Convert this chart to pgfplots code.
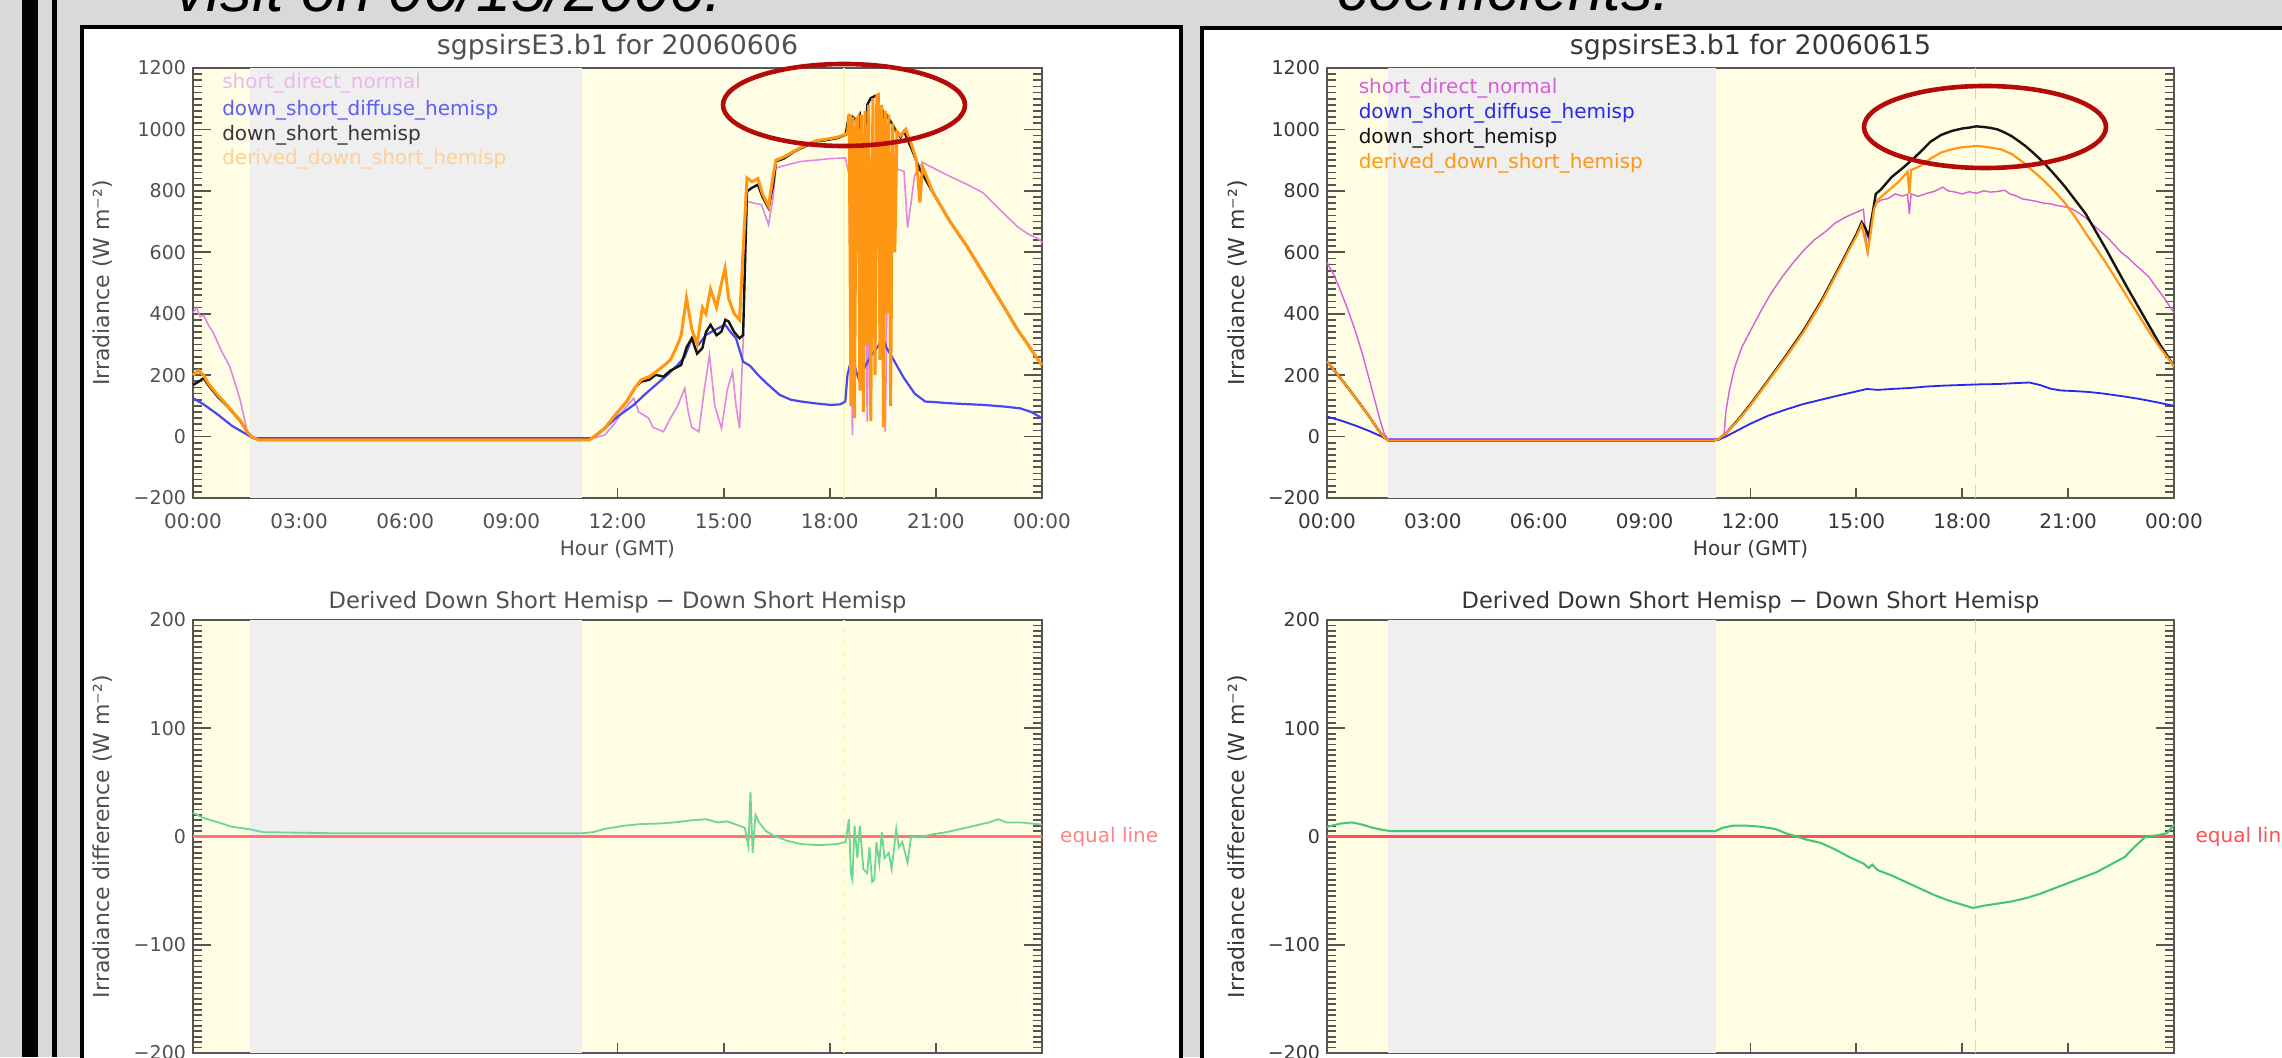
\documentclass[border=0pt]{standalone}
\usepackage{fontspec}
\setmainfont{DejaVu Sans}
\newfontfamily\slidefont{Liberation Sans}
\usepackage{pgfplots}
\pgfplotsset{compat=1.18}

\definecolor{slidegray}{RGB}{217,217,217}
\definecolor{dayyellow}{RGB}{255,253,228}
\definecolor{nightgray}{RGB}{239,239,239}
\definecolor{framegray}{RGB}{85,85,85}
\definecolor{sdnpink}{RGB}{214,96,214}
\definecolor{diffblue}{RGB}{40,40,240}
\definecolor{hemblack}{RGB}{20,20,20}
\definecolor{derorange}{RGB}{255,150,20}
\definecolor{diffgreen}{RGB}{60,200,110}
\definecolor{eqred}{RGB}{255,80,80}
\definecolor{noonyellow}{RGB}{250,232,0}
\definecolor{ellred}{RGB}{180,10,10}
\definecolor{lefttext}{RGB}{80,80,80}
\definecolor{righttext}{RGB}{55,55,55}

\tikzset{legtext/.style={anchor=west, inner sep=0pt, font=\fontsize{10}{12}\selectfont}}

\pgfplotsset{
  irsbase/.style={
    scale only axis, anchor=south west, clip=false,
    xmin=0, xmax=24,
    axis background/.style={fill=dayyellow},
    axis line style={draw=framegray, line width=1.3pt},
    xtick={0,3,...,24},
    xticklabels={00:00,03:00,06:00,09:00,12:00,15:00,18:00,21:00,00:00},
    xtick pos=left, ytick pos=both, tick align=inside,
    major tick length=9pt, minor tick length=4.5pt,
    tick style={line width=0.9pt, draw=framegray},
    xtick style={/pgfplots/major tick length=5pt},
    every axis title/.style={at={(axis description cs:0.5,1)}, anchor=base, yshift=6.6pt, font=\fontsize{13.4}{16}\selectfont},
    every axis x label/.style={at={(axis description cs:0.5,0)}, anchor=base, yshift=-28.6pt, font=\fontsize{10}{12}\selectfont},
    every axis y label/.style={at={(axis description cs:-0.106,0.5)}, rotate=90, anchor=center, font=\fontsize{11}{13}\selectfont},
    xticklabel style={anchor=base, yshift=-15.5pt, font=\fontsize{10}{12}\selectfont},
    yticklabel style={font=\fontsize{9.5}{11}\selectfont},
  },
  irstop/.style={ymin=-200, ymax=1200, ytick={-200,0,...,1200},
    yticklabels={−200,0,200,400,600,800,1000,1200}, minor y tick num=9},
  irsdiff/.style={ymin=-200, ymax=200, ytick={-200,-100,0,100,200},
    yticklabels={−200,−100,0,100,200}, minor y tick num=19, xticklabels={},
    title style={font=\fontsize{11.3}{13}\selectfont, yshift=-0.8pt}},
  leftpanel/.style={tick label style={text=lefttext}, title style={text=lefttext}, label style={text=lefttext}},
  rightpanel/.style={tick label style={text=righttext}, title style={text=righttext}, label style={text=righttext}},
}

\begin{document}
\begin{tikzpicture}
\useasboundingbox (0,0) rectangle (1141pt,528.5pt);
\fill[slidegray] (0,0) rectangle (1141pt,528.5pt);
\fill[black] (11pt,0) rectangle (19pt,528.5pt);
\fill[black] (26pt,0) rectangle (28.5pt,528.5pt);
\filldraw[fill=white, draw=black, line width=2.2pt] (41pt,-10pt) rectangle (590.5pt,515pt);
\filldraw[fill=white, draw=black, line width=2.2pt] (601pt,-10pt) rectangle (1160pt,514.5pt);
\node[anchor=base west, inner sep=0pt, font=\slidefont\itshape\fontsize{31.5}{36}\selectfont] at (87.5pt,522.5pt) {visit on 06/15/2006.};
\node[anchor=base west, inner sep=0pt, font=\slidefont\itshape\fontsize{31.5}{36}\selectfont] at (668.5pt,523pt) {coefficients.};

% ---------- left, top: 20060606
\begin{axis}[irsbase, irstop, leftpanel, at={(96.5pt,279.5pt)}, width=424.5pt, height=215pt,
  title={sgpsirsE3.b1 for 20060606}, xlabel={Hour (GMT)}, ylabel={Irradiance (W m⁻²)}]
\addplot[draw=none, fill=nightgray, forget plot] coordinates {(1.61,-200) (1.61,1200) (11.0,1200) (11.0,-200)} -- cycle;
\addplot[color=noonyellow!30, line width=1.2pt, forget plot] coordinates {(18.4,-200) (18.4,1200)};
% short_direct_normal
\addplot[color=sdnpink!75, line width=0.8pt] coordinates {
(0,403) (0.1,420) (0.2,390) (0.3,395) (0.45,360) (0.57,339) (0.8,280) (1.04,228) (1.2,170) (1.33,120) (1.45,60) (1.52,23) (1.6,0) (1.7,-5)
(4,-5) (8,-5) (11.3,-5) (11.64,5) (11.9,40) (12.2,90) (12.46,125) (12.6,80) (12.88,60) (13.0,30) (13.3,16) (13.5,60) (13.7,100) (13.9,157)
(14.0,80) (14.1,30) (14.3,16) (14.45,150) (14.6,266) (14.75,100) (14.94,27) (15.1,150) (15.25,212) (15.35,100) (15.45,27) (15.55,300)
(15.66,766) (15.85,760) (16.07,755) (16.27,690) (16.4,780) (16.48,874) (16.8,885) (17.2,896) (17.6,900) (18.0,905) (18.44,907) (18.55,850)
(18.64,5) (18.75,880) (18.85,896) (19.0,600) (19.06,49) (19.15,850) (19.26,885) (19.4,870) (19.5,300) (19.57,16) (19.65,700) (19.78,874)
(19.95,870) (20.1,863) (20.2,680) (20.29,755) (20.4,850) (20.5,874) (20.64,892) (21.0,870) (21.4,847) (21.9,820) (22.33,794) (22.8,740)
(23.3,684) (23.6,660) (23.94,641) (24,630)};
% down_short_diffuse_hemisp
\addplot[color=diffblue!85, line width=1.1pt] coordinates {
(0,125) (0.3,105) (0.72,70) (1.1,35) (1.55,5) (1.7,-5) (4,-5) (8,-5) (11.3,-5) (11.64,27) (12.0,65) (12.46,103) (12.8,140) (13.08,168)
(13.4,200) (13.7,233) (13.9,260) (14.1,320) (14.3,300) (14.5,331) (14.8,350) (15.04,364) (15.2,340) (15.35,320) (15.55,244) (15.75,230)
(15.97,201) (16.2,175) (16.58,136) (16.9,120) (17.2,114) (17.6,108) (18.03,103) (18.3,105) (18.44,114) (18.5,200) (18.64,266) (18.75,210)
(18.85,179) (19.0,230) (19.15,260) (19.26,277) (19.4,300) (19.47,331) (19.6,290) (19.78,255) (19.95,220) (20.1,190) (20.4,140) (20.7,114)
(21.0,112) (21.32,109) (21.8,106) (22.35,103) (22.9,98) (23.38,92) (23.7,80) (24,60)};
% down_short_hemisp
\addplot[color=hemblack, line width=1.2pt] coordinates {
(0,168) (0.15,178) (0.3,190) (0.45,165) (0.7,130) (1.0,95) (1.34,50) (1.55,12) (1.65,0) (1.85,-11) (4,-11) (8,-11) (11.2,-11) (11.4,5)
(11.64,27) (11.9,65) (12.26,114) (12.5,160) (12.67,179) (12.9,185) (13.08,201) (13.3,195) (13.5,215) (13.8,233) (13.95,290) (14.1,320)
(14.25,270) (14.4,288) (14.5,340) (14.63,364) (14.8,330) (14.94,342) (15.05,380) (15.14,375) (15.3,340) (15.45,320) (15.55,330) (15.66,798)
(15.8,810) (15.97,820) (16.1,780) (16.27,744) (16.4,820) (16.48,896) (16.7,905) (17.0,928) (17.3,945) (17.61,961) (17.9,965) (18.23,972)
(18.45,983) (18.55,1050) (18.6,400) (18.65,1040) (18.75,1030) (18.85,1048) (19.0,600) (19.06,1080) (19.16,1102) (19.3,1110) (19.37,1113)
(19.45,800) (19.5,1060) (19.6,1048) (19.75,1020) (19.88,994) (20.0,975) (20.1,994) (20.3,940) (20.55,869) (20.92,794) (21.4,700)
(21.88,619) (22.3,540) (22.8,446) (23.3,350) (23.6,300) (23.94,241) (24,233)};
% derived_down_short_hemisp
\addplot[color=derorange, line width=1.5pt] coordinates {
(0,200) (0.15,215) (0.3,200) (0.45,170) (0.7,135) (1.0,97) (1.34,52) (1.55,12) (1.65,0) (1.85,-11) (4,-11) (8,-11) (11.2,-11) (11.4,5)
(11.64,27) (11.9,65) (12.26,114) (12.5,160) (12.67,185) (12.9,195) (13.08,210) (13.3,230) (13.5,250) (13.7,300) (13.8,330) (13.95,451)
(14.1,350) (14.25,300) (14.4,420) (14.5,400) (14.63,480) (14.8,420) (14.94,500) (15.04,548) (15.14,450) (15.3,400) (15.45,380) (15.55,600)
(15.66,842) (15.8,830) (15.97,840) (16.1,790) (16.27,750) (16.4,850) (16.48,900) (16.7,910) (17.0,930) (17.3,948) (17.61,963) (17.9,968)
(18.23,975) (18.45,985) (18.5,985) (18.55,1050) (18.6,100) (18.65,1040) (18.7,60) (18.75,1030) (18.8,1040) (18.85,150) (18.9,1048)
(18.95,80) (19.0,1060) (19.06,300) (19.1,1080) (19.16,50) (19.22,1102) (19.28,200) (19.33,1110) (19.37,1113) (19.42,250) (19.47,1080)
(19.52,30) (19.57,1060) (19.62,400) (19.67,1048) (19.72,100) (19.78,1020) (19.84,600) (19.9,994) (20.0,980) (20.15,1000) (20.3,955)
(20.45,900) (20.55,762) (20.62,880) (20.92,794) (21.4,700) (21.88,619) (22.3,540) (22.8,446) (23.3,350) (23.6,300) (23.94,241) (24,233)};
\node[legtext, text=sdnpink!45] at (rel axis cs:0.034,0.965) {short\_direct\_normal};
\node[legtext, text=diffblue!75] at (rel axis cs:0.034,0.902) {down\_short\_diffuse\_hemisp};
\node[legtext, text=hemblack!85] at (rel axis cs:0.034,0.844) {down\_short\_hemisp};
\node[legtext, text=derorange!45] at (rel axis cs:0.034,0.788) {derived\_down\_short\_hemisp};
\end{axis}

% ---------- left, bottom: difference
\begin{axis}[irsbase, irsdiff, leftpanel, at={(96.5pt,2pt)}, width=424.5pt, height=216.5pt,
  title={Derived Down Short Hemisp − Down Short Hemisp}, ylabel={Irradiance difference (W m⁻²)}]
\addplot[draw=none, fill=nightgray, forget plot] coordinates {(1.61,-200) (1.61,200) (11.0,200) (11.0,-200)} -- cycle;
\addplot[color=noonyellow!30, line width=1.2pt, dashed, forget plot] coordinates {(18.4,-200) (18.4,200)};
\addplot[color=eqred!80, line width=1.4pt] coordinates {(0,0) (24,0)};
\addplot[color=diffgreen!75, line width=0.9pt] coordinates {
(0,22) (0.3,17) (0.72,13) (1.1,9) (1.55,7) (2.0,4) (4,3) (8,3) (11.0,3) (11.3,4) (11.64,7) (12.2,10) (12.67,11.5) (13.2,12) (13.6,13)
(14.1,15) (14.5,16) (14.83,13) (15.1,14) (15.35,11) (15.6,8) (15.7,-9) (15.76,41) (15.82,-15) (15.9,20) (16.0,13) (16.2,5) (16.4,1)
(16.8,-4) (17.2,-7) (17.7,-8) (18.2,-7) (18.45,-5) (18.54,16) (18.6,-35) (18.64,-40) (18.7,10) (18.78,-20) (18.85,10) (18.95,-30)
(19.06,-34) (19.12,-10) (19.2,-42) (19.26,-40) (19.32,-5) (19.4,-25) (19.47,4) (19.55,-20) (19.67,-15) (19.75,-30) (19.88,7) (19.95,-10)
(20.05,-5) (20.2,-24) (20.3,0) (20.5,-1) (20.9,2) (21.3,4) (21.7,7) (22.1,10) (22.5,13) (22.76,16) (23.0,13) (23.4,13) (23.7,12) (24,11)};
\node[anchor=west, inner sep=0pt, text=eqred!70, font=\fontsize{10}{12}\selectfont] at (rel axis cs:1.021,0.5) {equal line};
\end{axis}

% ---------- right, top: 20060615
\begin{axis}[irsbase, irstop, rightpanel, at={(663.5pt,279.5pt)}, width=423.5pt, height=215pt,
  title={sgpsirsE3.b1 for 20060615}, xlabel={Hour (GMT)}, ylabel={Irradiance (W m⁻²)}]
\addplot[draw=none, fill=nightgray, forget plot] coordinates {(1.73,-200) (1.73,1200) (11.02,1200) (11.02,-200)} -- cycle;
\addplot[color=noonyellow, line width=0.8pt, dash pattern=on 6.5pt off 4pt, forget plot] coordinates {(18.38,-200) (18.38,1200)};
\addplot[color=sdnpink, line width=0.7pt] coordinates {
(0,567) (0.2,525) (0.4,470) (0.6,410) (0.8,345) (1.0,270) (1.2,185) (1.35,120) (1.5,55) (1.62,10) (1.72,-8) (3,-8) (6,-8) (9,-8)
(11.15,-8) (11.25,5) (11.3,80) (11.4,150) (11.55,225) (11.75,290) (12.0,345) (12.3,410) (12.6,470) (12.9,520) (13.2,565) (13.5,605)
(13.8,640) (14.1,665) (14.4,695) (14.7,715) (14.9,725) (15.1,735) (15.2,740) (15.28,640) (15.32,590) (15.4,700) (15.5,755) (15.7,770)
(15.9,775) (16.1,790) (16.3,783) (16.45,788) (16.5,725) (16.55,790) (16.75,782) (17.0,792) (17.2,798) (17.45,812) (17.6,800) (17.8,796)
(18.0,790) (18.2,797) (18.4,792) (18.6,800) (18.8,796) (19.0,798) (19.2,802) (19.35,790) (19.5,785) (19.7,774) (19.9,770) (20.1,766)
(20.3,760) (20.5,758) (20.7,752) (20.9,748) (21.1,742) (21.3,728) (21.5,712) (21.7,690) (21.9,670) (22.1,650) (22.3,625) (22.5,600)
(22.7,582) (22.9,560) (23.1,540) (23.3,518) (23.5,485) (23.7,455) (23.9,420) (24,404)};
\addplot[color=diffblue, line width=0.9pt] coordinates {
(0,65) (0.4,52) (0.8,36) (1.2,18) (1.55,0) (1.72,-10) (4,-10) (8,-10) (11.1,-10) (11.3,0) (11.6,18) (12.0,42) (12.5,68) (13.0,88)
(13.5,106) (14.0,120) (14.5,134) (15.0,147) (15.3,155) (15.6,152) (16.0,155) (16.5,158) (17.0,163) (17.5,166) (18.0,168) (18.5,170)
(19.0,171) (19.5,174) (19.9,176) (20.2,168) (20.5,156) (20.8,150) (21.2,148) (21.6,145) (22.0,140) (22.5,132) (23.0,123) (23.5,112) (24,100)};
\addplot[color=hemblack, line width=1.2pt] coordinates {
(0,245) (0.3,202) (0.6,158) (0.9,112) (1.2,65) (1.45,22) (1.6,0) (1.75,-13) (3,-13) (6,-13) (9,-13) (10.95,-13) (11.1,-8) (11.3,10)
(11.6,48) (12.0,105) (12.5,183) (13.0,262) (13.5,345) (14.0,440) (14.3,505) (14.6,570) (14.8,615) (15.0,658) (15.15,698) (15.25,680)
(15.35,650) (15.45,720) (15.55,790) (15.7,805) (16.0,845) (16.3,873) (16.5,893) (16.8,925) (17.1,960) (17.4,982) (17.7,995) (18.0,1003)
(18.2,1006) (18.4,1010) (18.6,1008) (18.8,1005) (19.0,1000) (19.2,990) (19.4,978) (19.6,962) (19.8,945) (20.0,925) (20.3,893) (20.6,855)
(20.9,815) (21.2,770) (21.5,725) (21.8,665) (22.1,605) (22.4,542) (22.7,480) (23.0,420) (23.3,360) (23.6,300) (23.8,265) (24,228)};
\addplot[color=derorange, line width=1.1pt] coordinates {
(0,245) (0.3,202) (0.6,158) (0.9,112) (1.2,65) (1.45,22) (1.6,0) (1.75,-13) (3,-13) (6,-13) (9,-13) (10.95,-13) (11.1,-8) (11.3,10)
(11.6,46) (12.0,102) (12.5,180) (13.0,258) (13.5,340) (14.0,435) (14.3,500) (14.6,565) (14.8,610) (15.0,652) (15.15,690) (15.25,640)
(15.32,600) (15.4,660) (15.5,740) (15.6,770) (15.9,800) (16.2,830) (16.45,862) (16.5,790) (16.55,868) (16.8,880) (17.1,905) (17.4,925)
(17.7,935) (18.0,942) (18.2,944) (18.4,946) (18.6,944) (18.8,941) (19.1,935) (19.4,920) (19.7,895) (20.0,865) (20.3,835) (20.6,800)
(20.9,762) (21.2,715) (21.5,662) (21.8,612) (22.1,560) (22.4,505) (22.7,450) (23.0,395) (23.3,340) (23.6,290) (23.8,260) (24,228)};
\node[legtext, text=sdnpink] at (rel axis cs:0.037,0.953) {short\_direct\_normal};
\node[legtext, text=diffblue] at (rel axis cs:0.037,0.895) {down\_short\_diffuse\_hemisp};
\node[legtext, text=hemblack] at (rel axis cs:0.037,0.837) {down\_short\_hemisp};
\node[legtext, text=derorange] at (rel axis cs:0.037,0.779) {derived\_down\_short\_hemisp};
\end{axis}

% ---------- right, bottom: difference
\begin{axis}[irsbase, irsdiff, rightpanel, at={(663.5pt,2pt)}, width=423.5pt, height=216.5pt,
  title={Derived Down Short Hemisp − Down Short Hemisp}, ylabel={Irradiance difference (W m⁻²)}]
\addplot[draw=none, fill=nightgray, forget plot] coordinates {(1.73,-200) (1.73,200) (11.02,200) (11.02,-200)} -- cycle;
\addplot[color=noonyellow, line width=0.8pt, dash pattern=on 6.5pt off 4pt, forget plot] coordinates {(18.38,-200) (18.38,200)};
\addplot[color=eqred, line width=1.8pt] coordinates {(0,0) (24,0)};
\addplot[color=diffgreen, line width=1pt] coordinates {
(0,9) (0.4,12) (0.7,13) (1.0,11) (1.3,8) (1.6,6) (1.8,5) (4,5) (8,5) (11.0,5) (11.2,8) (11.5,10) (11.9,10) (12.3,9) (12.7,7) (13.0,3)
(13.3,0) (13.6,-3) (14.0,-6) (14.4,-12) (14.8,-19) (15.2,-25) (15.35,-29) (15.45,-26) (15.6,-31) (16.0,-36) (16.4,-42) (16.8,-48)
(17.2,-54) (17.6,-59) (18.0,-63) (18.3,-66) (18.6,-64) (19.0,-62) (19.4,-60) (19.8,-57) (20.2,-53) (20.6,-48) (21.0,-43) (21.4,-38)
(21.8,-33) (22.2,-26) (22.6,-19) (22.9,-9) (23.2,0) (23.5,1) (23.8,3) (24,11)};
\node[anchor=west, inner sep=0pt, text=eqred, font=\fontsize{10}{12}\selectfont] at (rel axis cs:1.025,0.5) {equal line};
\end{axis}

\draw[ellred, line width=2.3pt] (422pt,476pt) ellipse [x radius=60.5pt, y radius=20.5pt];
\draw[ellred, line width=2.3pt] (992.5pt,465pt) ellipse [x radius=60.5pt, y radius=20.5pt];
\end{tikzpicture}
\end{document}
